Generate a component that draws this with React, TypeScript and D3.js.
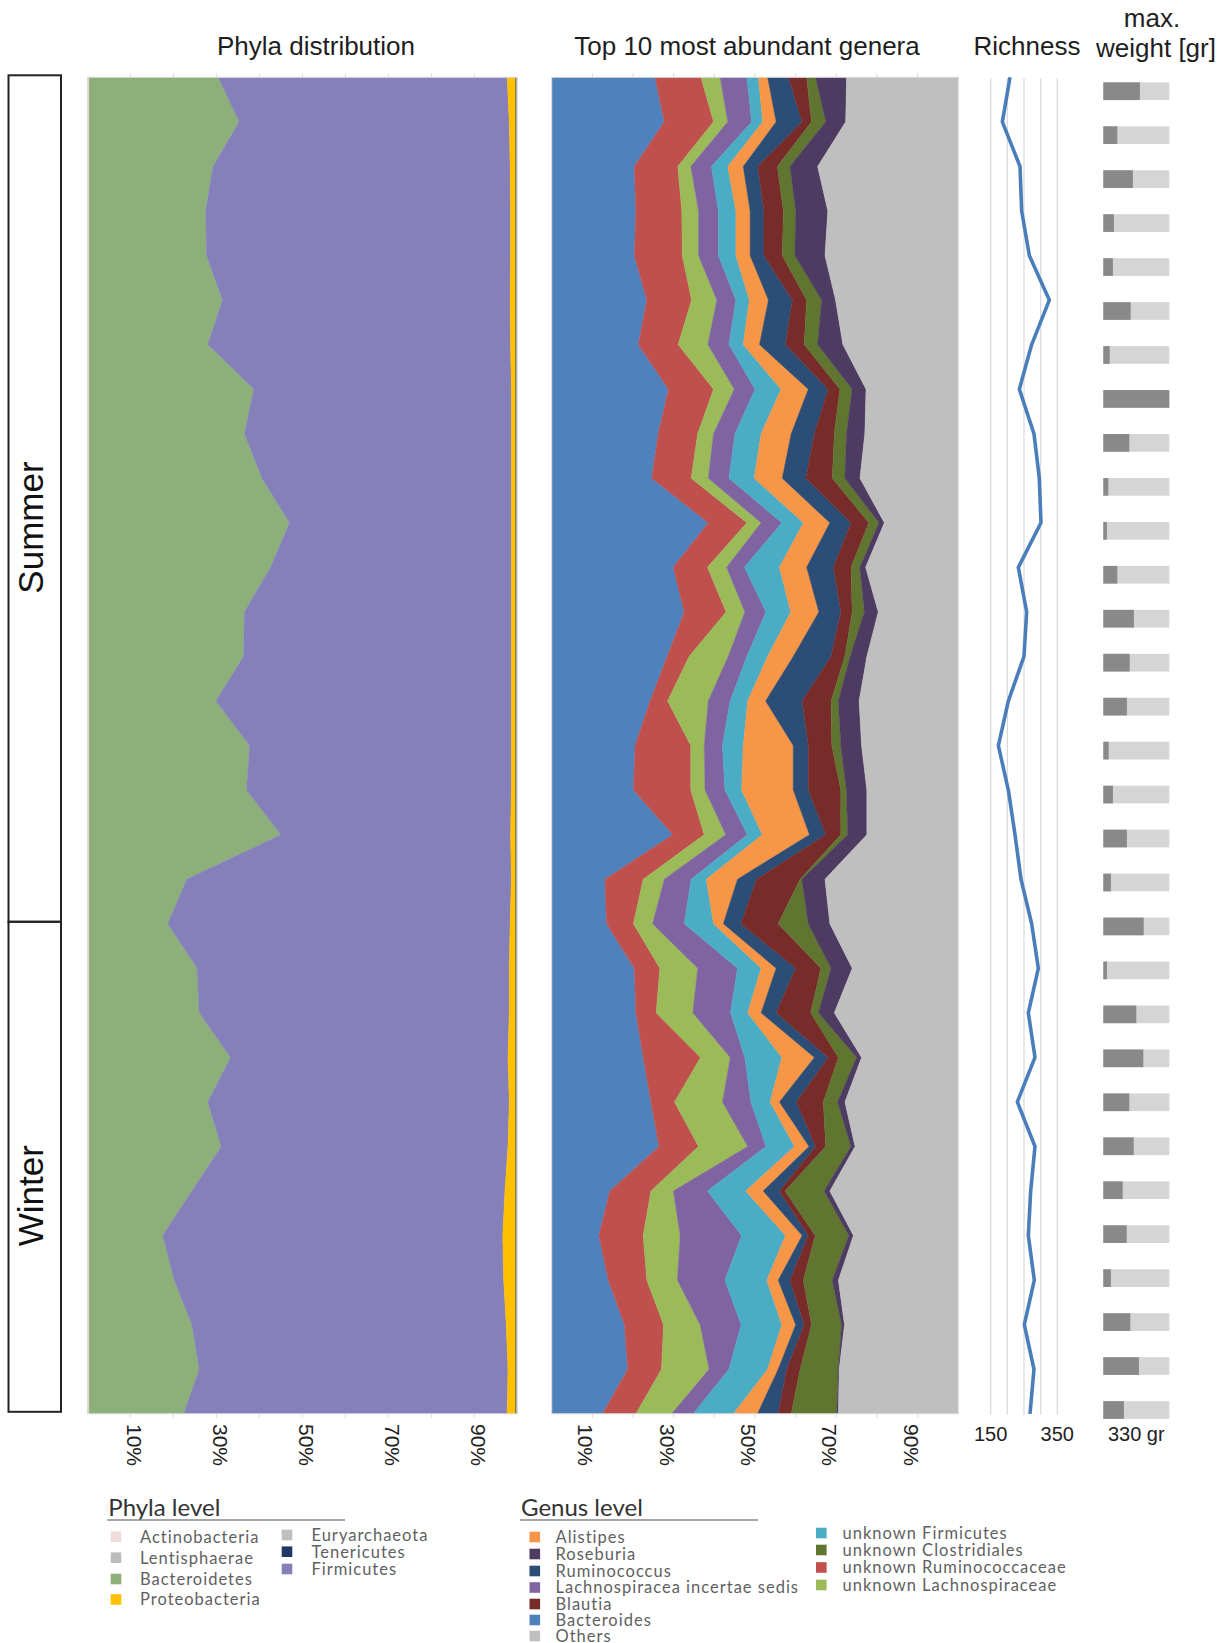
import React from 'react';
import * as d3 from 'd3';

// ---- samples (top to bottom) ----
const sampleIds: number[] = d3.range(31);

// ---- phyla level relative abundance (%) ----
const actinobacteria = [0.4,0.4,0.4,0.4,0.4,0.4,0.4,0.4,0.4,0.4,0.4,0.4,0.4,0.4,0.4,0.4,0.4,0.4,0.4,0.4,0.4,0.4,0.4,0.4,0.4,0.4,0.4,0.4,0.4,0.4,0.4];
const bacteroidetes = [30.0,34.9,28.8,27.1,27.3,31.0,27.6,38.3,36.1,40.2,46.6,42.2,36.1,35.9,29.5,37.3,36.6,44.6,22.7,18.3,25.1,25.6,32.9,27.6,30.7,23.9,17.1,19.8,23.9,25.6,22.0];
const firmicutes = [67.2,62.8,69.1,70.9,70.7,66.9,70.4,59.9,62.1,58.0,51.6,56.0,62.1,62.3,68.7,60.9,61.6,53.4,75.5,79.6,72.6,72.1,64.5,70.1,66.7,72.8,79.1,76.6,73.1,71.8,75.2];
const proteobacteria = [2.0,1.5,1.3,1.2,1.2,1.3,1.2,1.0,1.0,1.0,1.0,1.0,1.0,1.0,1.0,1.0,1.0,1.2,1.0,1.3,1.5,1.5,1.8,1.5,1.8,2.5,3.0,2.8,2.2,1.8,2.0];
const tenericutes = [0.2,0.2,0.2,0.2,0.2,0.2,0.2,0.2,0.2,0.2,0.2,0.2,0.2,0.2,0.2,0.2,0.2,0.2,0.2,0.2,0.2,0.2,0.2,0.2,0.2,0.2,0.2,0.2,0.2,0.2,0.2];
const euryarchaeota = [0.1,0.1,0.1,0.1,0.1,0.1,0.1,0.1,0.1,0.1,0.1,0.1,0.1,0.1,0.1,0.1,0.1,0.1,0.1,0.1,0.1,0.1,0.1,0.1,0.1,0.1,0.1,0.1,0.1,0.1,0.1];
const lentisphaerae = [0.1,0.1,0.1,0.1,0.1,0.1,0.1,0.1,0.1,0.1,0.1,0.1,0.1,0.1,0.1,0.1,0.1,0.1,0.1,0.1,0.1,0.1,0.1,0.1,0.1,0.1,0.1,0.1,0.1,0.1,0.1];

// ---- genus level relative abundance (%) ----
const bacteroides = [25.4,27.7,20.3,20.7,20.3,23.4,21.3,28.7,26.2,24.6,38.5,29.9,32.6,28.4,24.2,20.5,20.1,29.8,13.1,13.5,20.3,20.7,22.5,24.4,26.4,14.3,11.6,13.9,17.9,18.7,12.5];
const unkRuminococcaceae = [11.3,12.1,10.7,11.3,11.8,11.0,9.8,11.1,9.7,9.7,9.5,8.4,10.3,5.4,4.3,13.7,14.1,7.7,9.4,6.6,6.3,5.0,14.1,5.8,9.7,10.1,10.9,9.5,9.6,8.3,8.2];
const unkLachnospiraceae = [4.7,3.5,3.2,4.1,4.0,6.2,7.3,5.1,3.9,4.2,3.5,4.7,4.6,9.6,10.0,3.3,3.5,5.3,5.2,4.7,9.3,9.0,7.3,11.8,12.1,5.5,9.1,7.5,9.0,11.7,8.8];
const lachnoIncertaeSedis = [6.6,5.9,5.1,4.9,4.9,4.7,5.2,5.1,5.3,5.1,5.1,4.4,5.2,4.6,5.4,4.5,4.9,5.3,6.6,7.8,9.8,9.3,3.6,7.0,4.5,8.4,15.1,11.7,10.1,4.9,5.3];
const unkFirmicutes = [2.8,2.7,4.0,4.3,4.3,3.3,3.5,6.4,6.4,6.2,5.3,8.6,6.1,5.1,4.3,5.1,4.1,3.7,3.7,7.2,5.8,4.2,9.1,4.7,7.0,9.4,10.8,10.3,10.0,9.5,9.9];
const alistipes = [2.3,3.3,3.8,3.5,3.5,4.7,4.0,6.7,7.4,6.9,6.5,6.7,6.9,6.3,4.4,12.3,12.7,11.6,7.7,2.4,3.7,3.3,8.0,2.3,3.6,4.3,4.1,2.8,3.4,2.6,5.9];
const ruminococcus = [5.1,6.4,3.6,3.4,3.4,5.9,6.4,4.9,5.7,5.8,5.2,6.6,5.4,9.3,9.0,3.7,3.7,4.0,4.7,4.3,4.8,3.7,3.4,4.2,1.6,4.0,1.5,2.9,2.1,2.1,5.1];
const blautia = [4.5,2.3,4.8,4.8,4.5,3.5,4.6,2.9,4.9,6.5,4.4,4.3,2.8,3.4,7.1,5.8,8.0,3.7,10.7,9.2,6.2,8.5,2.5,6.6,2.5,1.4,1.7,3.3,1.8,3.3,3.2];
const unkClostridiales = [2.2,3.5,3.1,3.0,3.1,3.7,3.3,3.0,3.0,3.1,2.5,2.2,3.0,1.3,1.8,2.2,1.4,1.7,0.4,7.4,2.5,1.9,4.5,3.5,6.2,9.6,8.3,7.1,7.4,9.4,11.2];
const roseburia = [7.6,4.9,6.8,7.9,7.4,3.4,6.2,3.4,4.5,3.7,1.3,1.4,3.4,4.1,5.1,5.1,5.0,4.7,5.7,5.3,5.2,3.9,1.2,1.8,1.0,1.4,1.1,1.5,0.7,0.2,0.4];
const others = [27.5,27.7,34.6,32.1,32.8,30.2,28.4,22.7,23.0,24.2,18.2,22.8,19.7,22.5,24.4,23.8,22.5,22.5,32.8,31.6,26.1,30.5,23.8,27.9,25.4,31.6,25.8,29.5,28.0,29.3,29.5];

// ---- richness and maximum weight ----
const richness = [208,185,238,243,266,326,273,236,280,296,301,233,258,250,203,173,203,223,241,273,293,263,283,230,283,270,263,281,251,280,268];
const maxWeight = [183,70,148,53,48,137,32,330,130,25,18,70,153,132,118,27,48,118,38,202,18,165,200,130,152,97,117,38,135,178,103];
const weightMax = 330;

// ---- axis labels ----
const pctTicks = [10, 30, 50, 70, 90];
const minorPctTicks = [10, 20, 30, 40, 50, 60, 70, 80, 90];
const richTicks = [150, 200, 250, 300, 350];
const richLabels = [150, 350];
const seasons = [
  { name: 'Summer', from: 0, to: 19 },
  { name: 'Winter', from: 19, to: 30 },
];

type Series = { name: string; values: number[]; color: string };

const phylaSeries: Series[] = [
  { name: 'Actinobacteria', values: actinobacteria, color: '#f2dcdb' },
  { name: 'Bacteroidetes', values: bacteroidetes, color: '#8db07a' },
  { name: 'Firmicutes', values: firmicutes, color: '#8580ba' },
  { name: 'Proteobacteria', values: proteobacteria, color: '#ffc000' },
  { name: 'Tenericutes', values: tenericutes, color: '#1f3864' },
  { name: 'Euryarchaeota', values: euryarchaeota, color: '#bfbfbf' },
  { name: 'Lentisphaerae', values: lentisphaerae, color: '#bcbcbc' },
];

const genusSeries: Series[] = [
  { name: 'Bacteroides', values: bacteroides, color: '#4f81bd' },
  { name: 'unknown Ruminococcaceae', values: unkRuminococcaceae, color: '#c0504d' },
  { name: 'unknown Lachnospiraceae', values: unkLachnospiraceae, color: '#9bbb59' },
  { name: 'Lachnospiracea incertae sedis', values: lachnoIncertaeSedis, color: '#8064a2' },
  { name: 'unknown Firmicutes', values: unkFirmicutes, color: '#4bacc6' },
  { name: 'Alistipes', values: alistipes, color: '#f79646' },
  { name: 'Ruminococcus', values: ruminococcus, color: '#2c4d75' },
  { name: 'Blautia', values: blautia, color: '#772c2a' },
  { name: 'unknown Clostridiales', values: unkClostridiales, color: '#5f7530' },
  { name: 'Roseburia', values: roseburia, color: '#4d3b62' },
  { name: 'Others', values: others, color: '#bfbfbf' },
];

const phylaLegendCols = [
  ['Actinobacteria', 'Lentisphaerae', 'Bacteroidetes', 'Proteobacteria'],
  ['Euryarchaeota', 'Tenericutes', 'Firmicutes'],
];
const genusLegendCols = [
  ['Alistipes', 'Roseburia', 'Ruminococcus', 'Lachnospiracea incertae sedis', 'Blautia', 'Bacteroides', 'Others'],
  ['unknown Firmicutes', 'unknown Clostridiales', 'unknown Ruminococcaceae', 'unknown Lachnospiraceae'],
];

const W = 1226;
const H = 1643;
const TOP = 77.3;
const BOTTOM = 1413.8;
const TITLE_FONT = '"Liberation Sans", Arial, sans-serif';
const LEGEND_FONT = 'Lato, "Open Sans", sans-serif';

const yPt = d3.scalePoint<number>().domain(sampleIds).range([TOP, BOTTOM]);
const xPhy = d3.scaleLinear().domain([0, 100]).range([87.4, 517.4]);
const xGen = d3.scaleLinear().domain([0, 100]).range([551.7, 958.3]);
const xRich = d3.scaleLinear().domain([150, 350]).range([990.7, 1057.3]);
const yBar = d3.scalePoint<number>().domain(sampleIds).range([91.2, 1410]);
const xWt = d3.scaleLinear().domain([0, weightMax]).range([1103.3, 1169.3]);

function StackedArea({ series, x, clipId, labelShift }: {
  series: Series[]; x: d3.ScaleLinear<number, number>; clipId: string; labelShift: number;
}) {
  const rows = sampleIds.map((i) => {
    const r: Record<string, number> = {};
    series.forEach((s) => (r[s.name] = s.values[i]));
    return r;
  });
  const stacked = d3.stack<Record<string, number>>().keys(series.map((s) => s.name))(rows);
  const area = d3
    .area<d3.SeriesPoint<Record<string, number>>>()
    .y((_, i) => yPt(i) as number)
    .x0((d) => x(d[0]))
    .x1((d) => x(d[1]));
  const [x0, x1] = x.range();
  return (
    <g>
      <defs>
        <clipPath id={clipId}>
          <rect x={x0} y={TOP} width={x1 - x0} height={BOTTOM - TOP} />
        </clipPath>
      </defs>
      <g clipPath={`url(#${clipId})`}>
        {stacked.map((layer, k) => (
          <path key={layer.key} d={area(layer) || ''} fill={series[k].color} stroke={series[k].color} strokeWidth={0.4} />
        ))}
      </g>
      <rect x={x0} y={TOP} width={x1 - x0} height={BOTTOM - TOP} fill="none" stroke="#d9d9d9" strokeWidth={1} />
      {minorPctTicks.map((t) => (
        <g key={t}>
          <line x1={x(t)} x2={x(t)} y1={TOP - 4} y2={TOP} stroke="#d9d9d9" />
          <line x1={x(t)} x2={x(t)} y1={BOTTOM} y2={BOTTOM + 4} stroke="#d9d9d9" />
        </g>
      ))}
      {pctTicks.map((t) => (
        <text
          key={t}
          transform={`translate(${x(t) + labelShift},1424) rotate(90)`}
          fontFamily={TITLE_FONT}
          fontSize={21}
          fill="#222"
          dominantBaseline="central"
        >
          {t}%
        </text>
      ))}
    </g>
  );
}

function Legend({
  title, x, lineEnd, cols, colors, colX, rowY,
}: {
  title: string; x: number; lineEnd: number; cols: string[][]; colors: Record<string, string>;
  colX: { sq: number; tx: number }[]; rowY: number[][];
}) {
  return (
    <g fontFamily={LEGEND_FONT}>
      <text x={x} y={1516} fontSize={24} fill="#333">{title}</text>
      <line x1={x - 1} x2={lineEnd} y1={1520} y2={1520} stroke="#888" strokeWidth={1.5} />
      {cols.map((col, c) =>
        col.map((name, r) => (
          <g key={name}>
            <rect x={colX[c].sq} y={rowY[c][r] - 5.3} width={10.6} height={10.6} fill={colors[name]} />
            <text x={colX[c].tx} y={rowY[c][r]} dy="0.36em" fontSize={16.5} letterSpacing={1} fill="#5f5f5f">
              {name}
            </text>
          </g>
        ))
      )}
    </g>
  );
}

export default function App() {
  const richLine = d3
    .line<number>()
    .x((d) => xRich(d))
    .y((_, i) => yPt(i) as number);
  const phylaColors: Record<string, string> = {};
  phylaSeries.forEach((s) => (phylaColors[s.name] = s.color));
  const genusColors: Record<string, string> = {};
  genusSeries.forEach((s) => (genusColors[s.name] = s.color));
  const barH = 17.7;

  return (
    <svg
      width={W}
      height={H}
      viewBox={`0 0 ${W} ${H}`}
      style={{ position: 'absolute', left: 0, top: 0, background: '#fff' }}
    >
      <rect width={W} height={H} fill="#fff" />

      {/* titles */}
      <g fontFamily={TITLE_FONT} fontSize={26} fill="#1e1e1e" textAnchor="middle">
        <text x={316} y={55}>Phyla distribution</text>
        <text x={747} y={55}>Top 10 most abundant genera</text>
        <text x={1027} y={55}>Richness</text>
        <text x={1152} y={27}>max.</text>
        <text x={1156} y={57}>weight [gr]</text>
      </g>

      {/* season boxes */}
      {seasons.map((s) => {
        const y0 = (yPt(s.from) as number) - 2;
        const y1 = (yPt(s.to) as number) - 2;
        return (
          <g key={s.name}>
            <rect x={8.5} y={y0} width={52.5} height={y1 - y0} fill="none" stroke="#222" strokeWidth={2} />
            <text
              transform={`translate(${30.5},${(y0 + y1) / 2 + 29}) rotate(-90)`}
              textAnchor="middle"
              dominantBaseline="central"
              fontFamily={TITLE_FONT}
              fontSize={35}
              fill="#111"
            >
              {s.name}
            </text>
          </g>
        );
      })}

      <StackedArea series={phylaSeries} x={xPhy} clipId="clip-phyla" labelShift={4.5} />
      <StackedArea series={genusSeries} x={xGen} clipId="clip-genus" labelShift={-6.5} />

      {/* richness */}
      {richTicks.map((t) => (
        <line key={t} x1={xRich(t)} x2={xRich(t)} y1={TOP + 1} y2={BOTTOM + 1} stroke="#d9d9d9" strokeWidth={1.2} />
      ))}
      <path d={richLine(richness) || ''} fill="none" stroke="#4a7ebb" strokeWidth={3.6} strokeLinejoin="round" />
      {richLabels.map((t) => (
        <text key={t} x={xRich(t)} y={1441} textAnchor="middle" fontFamily={TITLE_FONT} fontSize={20} fill="#222">
          {t}
        </text>
      ))}

      {/* maximum weight */}
      {maxWeight.map((v, i) => {
        const cy = yBar(i) as number;
        return (
          <g key={i}>
            <rect x={xWt(0)} y={cy - barH / 2} width={xWt(weightMax) - xWt(0)} height={barH} fill="#d5d5d5" />
            <rect x={xWt(0)} y={cy - barH / 2} width={xWt(v) - xWt(0)} height={barH} fill="#888988" />
          </g>
        );
      })}
      <text x={(xWt(0) + xWt(weightMax)) / 2} y={1441} textAnchor="middle" fontFamily={TITLE_FONT} fontSize={20} fill="#222">
        {weightMax} gr
      </text>

      {/* legends */}
      <Legend
        title="Phyla level"
        x={108.3}
        lineEnd={345}
        cols={phylaLegendCols}
        colors={phylaColors}
        colX={[{ sq: 110.7, tx: 140 }, { sq: 281.7, tx: 311.5 }]}
        rowY={[[1536.7, 1557.7, 1579, 1599.5], [1535, 1551.7, 1569]]}
      />
      <Legend
        title="Genus level"
        x={521}
        lineEnd={758}
        cols={genusLegendCols}
        colors={genusColors}
        colX={[{ sq: 529.5, tx: 555.5 }, { sq: 816, tx: 842.5 }]}
        rowY={[[1537, 1554, 1571, 1587.5, 1604, 1620, 1636], [1533, 1550, 1567.5, 1585]]}
      />
    </svg>
  );
}
